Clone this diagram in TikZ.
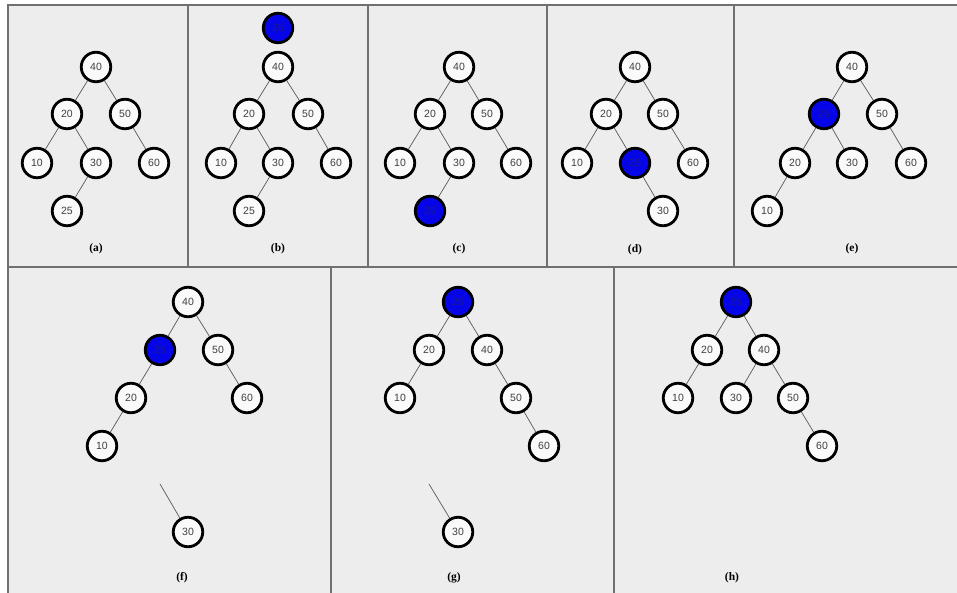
\documentclass[tikz,border=0pt]{standalone}
\usepackage{fontspec}
\setmainfont{Liberation Serif}
\setsansfont{Liberation Sans}
\usepackage{xcolor}
\usepackage{tikz}
\usetikzlibrary{positioning}

\definecolor{panelgray}{HTML}{EDEDED}
\definecolor{rulegray}{HTML}{707070}
\definecolor{hitblue}{HTML}{0505E8}
\definecolor{hittext}{HTML}{1A1A8C}

\begin{document}
\begin{tikzpicture}[
    x=1pt, y=-1pt,
    key/.style={circle, draw=black, line width=2.8pt, fill=white!96!gray, minimum size=29.5pt, inner sep=0pt, font=\sffamily\fontsize{10.5}{12}\selectfont, text=black!75},
    hit/.style={key, fill=hitblue, text=hittext},
    edge/.style={draw=black!65, line width=0.7pt},
    rule/.style={draw=rulegray, line width=1.3pt},
    caption/.style={font=\bfseries\fontsize{11.5}{13}\selectfont},
]
\useasboundingbox (0,0) rectangle (957,593);

% frame and panels
\fill[panelgray] (8,5) rectangle (957,593);
\draw[rule] (8,593) -- (8,5) -- (957,5);
\draw[rule] (8,267) -- (957,267);
\draw[rule] (188,5) -- (188,267);
\draw[rule] (368,5) -- (368,267);
\draw[rule] (547,5) -- (547,267);
\draw[rule] (734,5) -- (734,267);
\draw[rule] (331,267) -- (331,593);
\draw[rule] (614,267) -- (614,593);

% (a)
\node[key] (a40) at (96,67) {40};
\node[key] (a20) at (67,114) {20};
\node[key] (a50) at (125,114) {50};
\node[key] (a10) at (37,163) {10};
\node[key] (a30) at (96,163) {30};
\node[key] (a60) at (154,163) {60};
\node[key] (a25) at (67,211) {25};
\node[caption] (capa) at (96,249) {(a)};
\draw[edge] (a40) -- (a20);
\draw[edge] (a40) -- (a50);
\draw[edge] (a20) -- (a10);
\draw[edge] (a20) -- (a30);
\draw[edge] (a50) -- (a60);
\draw[edge] (a30) -- (a25);

% (b)
\node[hit] (bnew) at (278,28) {25};
\node[key] (b40) at (278,67) {40};
\node[key] (b20) at (249,114) {20};
\node[key] (b50) at (308,114) {50};
\node[key] (b10) at (221,163) {10};
\node[key] (b30) at (278,163) {30};
\node[key] (b60) at (336,163) {60};
\node[key] (b25) at (249,211) {25};
\node[caption] (capb) at (278,249) {(b)};
\draw[edge] (b40) -- (b20);
\draw[edge] (b40) -- (b50);
\draw[edge] (b20) -- (b10);
\draw[edge] (b20) -- (b30);
\draw[edge] (b50) -- (b60);
\draw[edge] (b30) -- (b25);

% (c)
\node[key] (c40) at (459,67) {40};
\node[key] (c20) at (430,114) {20};
\node[key] (c50) at (487,114) {50};
\node[key] (c10) at (400,163) {10};
\node[key] (c30) at (459,163) {30};
\node[key] (c60) at (516,163) {60};
\node[hit] (c25) at (430,211) {25};
\node[caption] (capc) at (459,249) {(c)};
\draw[edge] (c40) -- (c20);
\draw[edge] (c40) -- (c50);
\draw[edge] (c20) -- (c10);
\draw[edge] (c20) -- (c30);
\draw[edge] (c50) -- (c60);
\draw[edge] (c30) -- (c25);

% (d)
\node[key] (d40) at (635,67) {40};
\node[key] (d20) at (606,114) {20};
\node[key] (d50) at (663,114) {50};
\node[key] (d10) at (577,163) {10};
\node[hit] (d25) at (635,163) {25};
\node[key] (d60) at (693,163) {60};
\node[key] (d30) at (663,211) {30};
\node[caption] (capd) at (635,250) {(d)};
\draw[edge] (d40) -- (d20);
\draw[edge] (d40) -- (d50);
\draw[edge] (d20) -- (d10);
\draw[edge] (d20) -- (d25);
\draw[edge] (d50) -- (d60);
\draw[edge] (d25) -- (d30);

% (e)
\node[key] (e40) at (852,67) {40};
\node[hit] (e25) at (824,114) {25};
\node[key] (e50) at (882,114) {50};
\node[key] (e20) at (795,163) {20};
\node[key] (e30) at (852,163) {30};
\node[key] (e60) at (911,163) {60};
\node[key] (e10) at (767,211) {10};
\node[caption] (cape) at (852,249) {(e)};
\draw[edge] (e40) -- (e25);
\draw[edge] (e40) -- (e50);
\draw[edge] (e25) -- (e20);
\draw[edge] (e25) -- (e30);
\draw[edge] (e50) -- (e60);
\draw[edge] (e20) -- (e10);

% (f)
\node[key] (f40) at (188,302) {40};
\node[hit] (f25) at (160,350) {25};
\node[key] (f50) at (218,350) {50};
\node[key] (f20) at (131,398) {20};
\node[key] (f60) at (247,398) {60};
\node[key] (f10) at (102,446) {10};
\node[key] (f30) at (188,532) {30};
\coordinate (fstub) at (160,484);
\node[caption] (capf) at (182,578) {(f)};
\draw[edge] (f40) -- (f25);
\draw[edge] (f40) -- (f50);
\draw[edge] (f25) -- (f20);
\draw[edge] (f50) -- (f60);
\draw[edge] (f20) -- (f10);
\draw[edge] (fstub) -- (f30);

% (g)
\node[hit] (g25) at (458,302) {25};
\node[key] (g20) at (429,350) {20};
\node[key] (g40) at (487,350) {40};
\node[key] (g10) at (400,398) {10};
\node[key] (g50) at (516,398) {50};
\node[key] (g60) at (544,446) {60};
\node[key] (g30) at (458,532) {30};
\coordinate (gstub) at (429,484);
\node[caption] (capg) at (454,578) {(g)};
\draw[edge] (g25) -- (g20);
\draw[edge] (g25) -- (g40);
\draw[edge] (g20) -- (g10);
\draw[edge] (g40) -- (g50);
\draw[edge] (g50) -- (g60);
\draw[edge] (gstub) -- (g30);

% (h)
\node[hit] (h25) at (736,302) {25};
\node[key] (h20) at (707,350) {20};
\node[key] (h40) at (764,350) {40};
\node[key] (h10) at (678,398) {10};
\node[key] (h30) at (736,398) {30};
\node[key] (h50) at (793,398) {50};
\node[key] (h60) at (822,446) {60};
\node[caption] (caph) at (732,578) {(h)};
\draw[edge] (h25) -- (h20);
\draw[edge] (h25) -- (h40);
\draw[edge] (h20) -- (h10);
\draw[edge] (h40) -- (h30);
\draw[edge] (h40) -- (h50);
\draw[edge] (h50) -- (h60);

\end{tikzpicture}
\end{document}
